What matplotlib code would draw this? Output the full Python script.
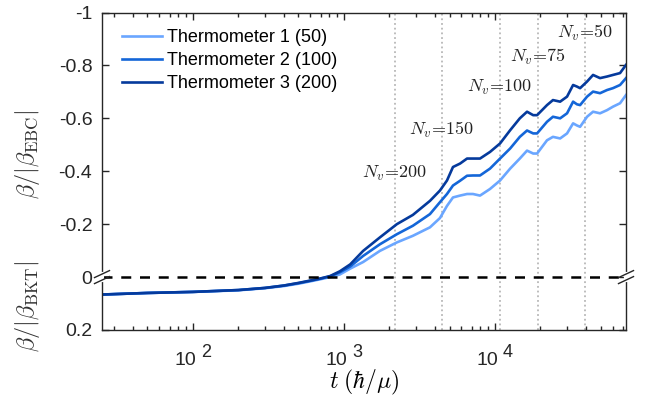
import matplotlib
matplotlib.use("Agg")
import matplotlib.pyplot as plt
import matplotlib.transforms as mtransforms
from matplotlib.ticker import FixedLocator, FixedFormatter, LogLocator, NullFormatter

# time axis (hbar/mu) and beta curves
t = [25, 50, 100, 200, 300, 400, 500, 600, 700, 810, 940, 1100, 1340, 1730, 2240,
     2860, 3710, 4320, 4810, 5270, 5870, 6530, 7150, 7960, 9270, 10800, 12600, 14600,
     16300, 17900, 19000, 22100, 24200, 27000, 30000, 32900, 34900, 36600, 40700,
     44600, 49600, 55200, 60400, 67300, 73700]

thermo1 = [0.066, 0.060, 0.056, 0.050, 0.042, 0.034, 0.025, 0.016, 0.008, 0.000,
           -0.010, -0.032, -0.057, -0.099, -0.131, -0.156, -0.188, -0.223, -0.269,
           -0.301, -0.308, -0.314, -0.314, -0.308, -0.333, -0.365, -0.410, -0.448,
           -0.478, -0.467, -0.467, -0.517, -0.530, -0.524, -0.543, -0.581, -0.573,
           -0.568, -0.606, -0.625, -0.619, -0.631, -0.644, -0.657, -0.688]
thermo2 = [0.066, 0.060, 0.056, 0.049, 0.041, 0.032, 0.023, 0.014, 0.006, -0.003,
           -0.018, -0.040, -0.080, -0.124, -0.162, -0.194, -0.238, -0.283, -0.314,
           -0.346, -0.364, -0.383, -0.384, -0.384, -0.410, -0.448, -0.486, -0.530,
           -0.554, -0.543, -0.543, -0.587, -0.606, -0.600, -0.619, -0.663, -0.653,
           -0.650, -0.682, -0.701, -0.695, -0.707, -0.714, -0.726, -0.752]
thermo3 = [0.066, 0.060, 0.056, 0.049, 0.041, 0.032, 0.022, 0.013, 0.005, -0.004,
           -0.022, -0.048, -0.099, -0.150, -0.200, -0.235, -0.288, -0.327, -0.365,
           -0.416, -0.429, -0.448, -0.448, -0.448, -0.473, -0.505, -0.555, -0.600,
           -0.625, -0.612, -0.612, -0.650, -0.669, -0.663, -0.682, -0.726, -0.720,
           -0.714, -0.739, -0.764, -0.752, -0.758, -0.764, -0.771, -0.802]

series_labels = ["Thermometer 1 (50)", "Thermometer 2 (100)", "Thermometer 3 (200)"]
series_colors = ["#6aa6ff", "#1466d8", "#053a9c"]

# times where the vortex number drops to N_v
nv_times = [2180, 4430, 10800, 19400, 39500]
nv_values = ["200", "150", "100", "75", "50"]

yticks = [-1, -0.8, -0.6, -0.4, -0.2, 0, 0.2]
ytick_labels = ["-1", "-0.8", "-0.6", "-0.4", "-0.2", "0", "0.2"]
xtick_exps = [2, 3, 4]

plt.rcParams["font.family"] = ["Liberation Sans", "DejaVu Sans"]
plt.rcParams["mathtext.fontset"] = "cm"

fig = plt.figure(figsize=(6.62, 4.01), dpi=100)
ax = fig.add_axes([102 / 662, 1 - 330 / 401, 524 / 662, 317.5 / 401])

for tt in nv_times:
    ax.axvline(tt, color="#b8b8b8", lw=1.3, ls=(0, (1, 1.6)), zorder=1)

for ys, lab, col in zip([thermo1, thermo2, thermo3], series_labels, series_colors):
    ax.plot(t, ys, color=col, lw=1.9, label=lab, zorder=2)

ax.axhline(0, color="black", lw=1.8, ls=(0, (4, 3.5)), zorder=3)

ax.set_xscale("log")
ax.set_xlim(25, 73700)
ax.set_ylim(0.2, -1)

ax.yaxis.set_major_locator(FixedLocator(yticks))
ax.yaxis.set_major_formatter(FixedFormatter(ytick_labels))
ax.xaxis.set_major_locator(FixedLocator([10.0 ** e for e in xtick_exps]))
ax.xaxis.set_major_formatter(NullFormatter())
ax.xaxis.set_minor_locator(LogLocator(base=10, subs=range(2, 10)))
ax.xaxis.set_minor_formatter(NullFormatter())

ax.tick_params(which="both", direction="in", top=True, right=True,
               color="#262626", width=1.0)
ax.tick_params(which="major", length=5)
ax.tick_params(which="minor", length=2.6)
ax.tick_params(axis="y", labelsize=14, pad=7, labelcolor="#262626")
for sp in ax.spines.values():
    sp.set_linewidth(1.0)
    sp.set_color("#262626")

# MATLAB-style "10 ^n" tick labels
trans_base = mtransforms.offset_copy(ax.get_xaxis_transform(), fig=fig, x=3, y=-35, units="dots")
trans_exp = mtransforms.offset_copy(ax.get_xaxis_transform(), fig=fig, x=8, y=-27, units="dots")
for e in xtick_exps:
    ax.text(10.0 ** e, 0, "10", transform=trans_base, ha="right", va="baseline",
            fontsize=14, color="#262626")
    ax.text(10.0 ** e, 0, str(e), transform=trans_exp, ha="left", va="baseline",
            fontsize=13, color="#262626")

# N_v annotations
label_y = [-0.393, -0.556, -0.715, -0.832, -0.922]
for tt, nv, yy in zip(nv_times, nv_values, label_y):
    ax.text(tt, yy, r"$N_v\!=\!%s$" % nv, ha="center", va="center", fontsize=13,
            color="#222222", zorder=4)

# axis break marks at beta = 0, on both side spines
ya = 0.2 / 1.2
for xa in [0, 1]:
    ax.plot([xa, xa], [ya - 0.009, ya + 0.009], transform=ax.transAxes, color="white",
            lw=3, clip_on=False, zorder=5)
    for dy in [-3.0, 3.0]:
        line_tr = ax.transAxes + mtransforms.Affine2D().translate(0, dy)
        ax.plot([xa - 7.5 / 524, xa + 7.5 / 524], [ya - 3.5 / 317.5, ya + 3.5 / 317.5],
                transform=line_tr, color="#262626", lw=1.0, clip_on=False, zorder=6)

ax.legend(loc="upper left", bbox_to_anchor=(0.018, 0.982), frameon=False,
          fontsize=13, handlelength=2.2, handletextpad=0.25, labelspacing=0.33,
          borderaxespad=0.2)

ax.set_xlabel(r"$t\;(\hbar/\mu)$", fontsize=17, va="top")
ax.xaxis.set_label_coords(0.5, -0.118)
fig.text(28 / 662, 1 - 154 / 401, r"$\beta/|\beta_{\rm EBC}|$", rotation=90,
         ha="center", va="center", fontsize=17.5, color="#333333")
fig.text(28 / 662, 1 - 306 / 401, r"$\beta/|\beta_{\rm BKT}|$", rotation=90,
         ha="center", va="center", fontsize=17.5, color="#333333")

fig.savefig("out.png", dpi=100)
